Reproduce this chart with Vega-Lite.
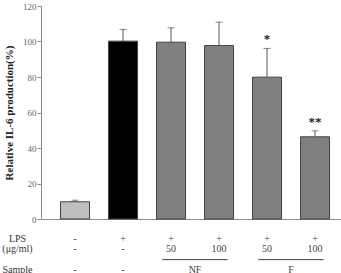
{
  "$schema": "https://vega.github.io/schema/vega-lite/v6.json",
  "padding": {"top": 2, "left": 1, "right": 0, "bottom": 0},
  "background": "white",
  "config": {"view": {"stroke": null}, "font": "Liberation Serif", "axis": {"labelOverlap": false}, "axisQuantitative": {"labelOverlap": false, "tickCount": 7}},
  "datasets": {
    "bars": [
      {"group": "g1", "kind": "control", "value": 9.7, "upper": 10.6, "sig": ""},
      {"group": "g2", "kind": "lps", "value": 100.2, "upper": 106.8, "sig": ""},
      {"group": "g3", "kind": "sample", "value": 99.6, "upper": 107.7, "sig": ""},
      {"group": "g4", "kind": "sample", "value": 97.7, "upper": 110.9, "sig": ""},
      {"group": "g5", "kind": "sample", "value": 79.9, "upper": 96.1, "sig": "*"},
      {"group": "g6", "kind": "sample", "value": 46.3, "upper": 49.7, "sig": "**"}
    ],
    "table": [
      {"group": "g1", "row": "LPS", "label": "-"},
      {"group": "g2", "row": "LPS", "label": "+"},
      {"group": "g3", "row": "LPS", "label": "+"},
      {"group": "g4", "row": "LPS", "label": "+"},
      {"group": "g5", "row": "LPS", "label": "+"},
      {"group": "g6", "row": "LPS", "label": "+"},
      {"group": "g1", "row": "(μg/ml)", "label": "-"},
      {"group": "g2", "row": "(μg/ml)", "label": "-"},
      {"group": "g3", "row": "(μg/ml)", "label": "50"},
      {"group": "g4", "row": "(μg/ml)", "label": "100"},
      {"group": "g5", "row": "(μg/ml)", "label": "50"},
      {"group": "g6", "row": "(μg/ml)", "label": "100"},
      {"group": "g1", "row": "Sample", "label": "-"},
      {"group": "g2", "row": "Sample", "label": "-"}
    ],
    "spans": [
      {"start": "g3", "end": "g4", "row": "line", "labelrow": "Sample", "label": "NF"},
      {"start": "g5", "end": "g6", "row": "line", "labelrow": "Sample", "label": "F"}
    ]
  },
  "spacing": 9,
  "vconcat": [
    {
      "width": 300,
      "height": 213,
      "data": {"name": "bars"},
      "encoding": {
        "x": {
          "field": "group", "type": "nominal",
          "scale": {"domain": ["g1","g2","g3","g4","g5","g6"], "paddingInner": 0.396, "paddingOuter": 0.323, "align": 0.63},
          "axis": {"labels": false, "ticks": false, "title": null, "domainColor": "#8c8c8c", "domainWidth": 1.2}
        }
      },
      "layer": [
        {
          "mark": {"type": "bar", "stroke": "#404040", "strokeWidth": 1},
          "encoding": {
            "y": {
              "field": "value", "type": "quantitative",
              "scale": {"domain": [0, 120], "nice": false},
              "axis": {
                "values": [0, 20, 40, 60, 80, 100, 120],
                "labelOverlap": false,
                "grid": false, "tickSize": 4, "tickColor": "#8c8c8c", "domainColor": "#8c8c8c",
                "labelFont": "Liberation Serif", "labelFontSize": 9, "labelColor": "#666666", "labelPadding": 1,
                "title": "Relative IL-6 production(%)", "titleFont": "Liberation Serif", "titleFontSize": 11,
                "titleFontWeight": "bold", "titleColor": "#222222", "titlePadding": 8
              }
            },
            "color": {
              "field": "kind", "type": "nominal", "legend": null,
              "scale": {"domain": ["control", "lps", "sample"], "range": ["#bfbfbf", "#000000", "#808080"]}
            }
          }
        },
        {
          "mark": {"type": "rule", "color": "#555555", "strokeWidth": 1},
          "encoding": {
            "y": {"field": "value", "type": "quantitative"},
            "y2": {"field": "upper"}
          }
        },
        {
          "mark": {"type": "tick", "color": "#555555", "thickness": 1, "size": 7},
          "encoding": {
            "y": {"field": "upper", "type": "quantitative"}
          }
        },
        {
          "mark": {"type": "text", "font": "Liberation Serif", "fontSize": 13, "fontWeight": "bold", "fill": "#222222", "baseline": "alphabetic", "dy": -5},
          "encoding": {
            "y": {"field": "upper", "type": "quantitative"},
            "text": {"field": "sig"}
          }
        }
      ]
    },
    {
      "width": 300,
      "height": 41,
      "encoding": {
        "y": {
          "field": "row", "type": "nominal",
          "scale": {"domain": ["LPS", "(μg/ml)", "line", "Sample"], "paddingInner": 0, "paddingOuter": 0},
          "axis": {
            "title": null, "ticks": false, "domain": false,
            "labelExpr": "datum.value === 'line' ? '' : datum.value",
            "labelFont": "Liberation Serif", "labelFontSize": 10, "labelColor": "#333333",
            "labelAlign": "center", "labelPadding": 24
          }
        }
      },
      "layer": [
        {
          "data": {"name": "table"},
          "mark": {"type": "text", "font": "Liberation Serif", "fontSize": 10, "fill": "#444444"},
          "encoding": {
            "x": {
              "field": "group", "type": "nominal",
              "scale": {"domain": ["g1","g2","g3","g4","g5","g6"], "paddingInner": 0.396, "paddingOuter": 0.323, "align": 0.63},
              "axis": null
            },
            "text": {"field": "label"}
          }
        },
        {
          "data": {"name": "spans"},
          "mark": {"type": "rule", "color": "#444444", "strokeWidth": 1},
          "encoding": {
            "x": {"field": "start", "type": "nominal", "bandPosition": 0.2, "axis": null},
            "x2": {"field": "end", "bandPosition": 0.8},
            "y": {"field": "row", "type": "nominal"}
          }
        },
        {
          "data": {"name": "spans"},
          "mark": {"type": "text", "font": "Liberation Serif", "fontSize": 10, "fill": "#444444", "dx": 24},
          "encoding": {
            "x": {"field": "start", "type": "nominal", "axis": null},
            "y": {"field": "labelrow", "type": "nominal"},
            "text": {"field": "label"}
          }
        }
      ]
    }
  ]
}
